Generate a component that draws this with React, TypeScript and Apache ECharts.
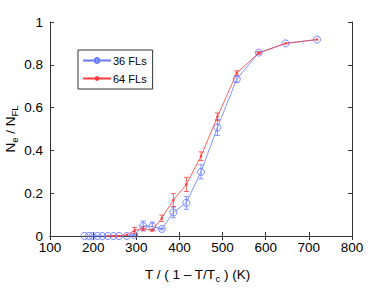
import React, { useEffect, useRef } from "react";
import * as echarts from "echarts";

const x36 = [180, 190, 199, 210, 221, 234, 247, 260, 278, 295, 316, 337, 359, 386, 416, 450, 488, 533, 584, 646, 719];
const y36 = [0, 0, 0, 0, 0, 0, 0, 0, 0, 0.005, 0.047, 0.045, 0.033, 0.11, 0.155, 0.3, 0.507, 0.733, 0.857, 0.9, 0.918];
const e36 = [0, 0, 0, 0, 0, 0, 0, 0, 0, 0.004, 0.023, 0.02, 0.004, 0.025, 0.03, 0.033, 0.037, 0.015, 0.005, 0.003, 0.003];

const x64 = [234, 247, 260, 278, 296, 316, 337, 359, 386, 416, 450, 488, 533, 584, 646, 719];
const y64 = [0, 0, 0, 0.005, 0.026, 0.035, 0.027, 0.083, 0.168, 0.241, 0.373, 0.557, 0.762, 0.855, 0.9, 0.918];
const e64 = [0, 0, 0, 0.003, 0.014, 0.01, 0.004, 0.015, 0.03, 0.033, 0.02, 0.018, 0.01, 0.005, 0.003, 0.003];

const BLUE = "#6678ff";
const RED = "#ff3a3a";
const FONT = "Liberation Sans, Arial, sans-serif";

function errSeries(xs: number[], ys: number[], es: number[], color: string, name: string) {
  return {
    type: "custom",
    name,
    z: 3,
    data: xs.map((x, i) => [x, ys[i] - es[i], ys[i] + es[i], es[i]]).filter((d) => d[3] > 0.0035),
    renderItem: (params: any, api: any) => {
      const lo = api.coord([api.value(0), api.value(1)]);
      const hi = api.coord([api.value(0), api.value(2)]);
      const w = 2.5;
      const st = { stroke: color, lineWidth: 0.8 };
      return {
        type: "group",
        children: [
          { type: "line", shape: { x1: lo[0], y1: lo[1], x2: hi[0], y2: hi[1] }, style: st },
          { type: "line", shape: { x1: lo[0] - w, y1: lo[1], x2: lo[0] + w, y2: lo[1] }, style: st },
          { type: "line", shape: { x1: hi[0] - w, y1: hi[1], x2: hi[0] + w, y2: hi[1] }, style: st },
        ],
      };
    },
  };
}

export default function App() {
  const ref = useRef<HTMLDivElement>(null);
  useEffect(() => {
    const chart = echarts.init(ref.current!, null, { renderer: "svg" });
    const axisLine = { show: true, lineStyle: { color: "#333", width: 1 } };
    const tick = { show: true, inside: true, length: 4, lineStyle: { color: "#333" } };
    chart.setOption({
      animation: false,
      backgroundColor: "#fff",
      grid: { left: 50, right: 36, top: 22, bottom: 56 },
      legend: {
        data: ["36 FLs", "64 FLs"],
        orient: "vertical",
        left: 78,
        top: 50,
        borderColor: "#333",
        borderWidth: 1,
        borderRadius: 0,
        backgroundColor: "#fff",
        padding: [5, 6, 5, 4],
        itemWidth: 28,
        itemHeight: 6,
        itemGap: 7,
        textStyle: { fontFamily: FONT, fontSize: 11, color: "#000", padding: [0, 0, 0, -3] },
      },
      xAxis: [
        {
          type: "value",
          min: 100,
          max: 800,
          interval: 100,
          axisLine,
          axisTick: tick,
          splitLine: { show: false },
          axisLabel: { fontFamily: FONT, fontSize: 13.5, color: "#000", margin: 4 },
        },
        {
          type: "value",
          position: "top",
          min: 100,
          max: 800,
          interval: 100,
          axisLine,
          axisTick: tick,
          splitLine: { show: false },
          axisLabel: { show: false },
        },
      ],
      yAxis: [
        {
          type: "value",
          min: 0,
          max: 1,
          interval: 0.2,
          axisLine,
          axisTick: tick,
          splitLine: { show: false },
          axisLabel: {
            fontFamily: FONT,
            fontSize: 13.5,
            color: "#000",
            margin: 7,
            formatter: (v: number) => (v === 0 || v === 1 ? String(v) : v.toFixed(1)),
          },
        },
        {
          type: "value",
          position: "right",
          min: 0,
          max: 1,
          interval: 0.2,
          axisLine,
          axisTick: tick,
          splitLine: { show: false },
          axisLabel: { show: false },
        },
      ],
      series: [
        errSeries(x36, y36, e36, BLUE, "err36"),
        errSeries(x64, y64, e64, RED, "err64"),
        {
          type: "line",
          name: "36 FLs",
          data: x36.map((x, i) => [x, y36[i]]),
          symbol: "circle",
          symbolSize: 7,
          lineStyle: { color: BLUE, width: 0.8 },
          itemStyle: { color: "rgba(255,255,255,0)", borderColor: BLUE, borderWidth: 0.9 },
          emphasis: { disabled: true },
          z: 4,
        },
        {
          type: "line",
          name: "64 FLs",
          data: x64.map((x, i) => [x, y64[i]]),
          symbol: "circle",
          symbolSize: 2.5,
          lineStyle: { color: RED, width: 0.8 },
          itemStyle: { color: RED, borderWidth: 0 },
          emphasis: { disabled: true },
          z: 5,
        },
      ],
      graphic: [
        {
          type: "text",
          left: 145,
          top: 267,
          style: {
            text: "{n|T / ( 1 – T/T}{s|c}{n| ) (K)}",
            rich: {
              n: { fontFamily: FONT, fontSize: 13.5, fill: "#000" },
              s: { fontFamily: FONT, fontSize: 9.5, fill: "#000", padding: [9, 0, 0, 0] },
            },
          },
        },
        {
          type: "text",
          x: 10,
          y: 129,
          rotation: Math.PI / 2,
          style: {
            text: "{n|N}{s|e}{n| / N}{s|FL}",
            align: "center",
            verticalAlign: "middle",
            rich: {
              n: { fontFamily: FONT, fontSize: 13.5, fill: "#000" },
              s: { fontFamily: FONT, fontSize: 9.5, fill: "#000", padding: [9, 0, 0, 0] },
            },
          },
        },
      ],
    });
    return () => chart.dispose();
  }, []);
  return <div ref={ref} style={{ position: "fixed", left: 0, top: 0, width: 388, height: 292 }} />;
}
